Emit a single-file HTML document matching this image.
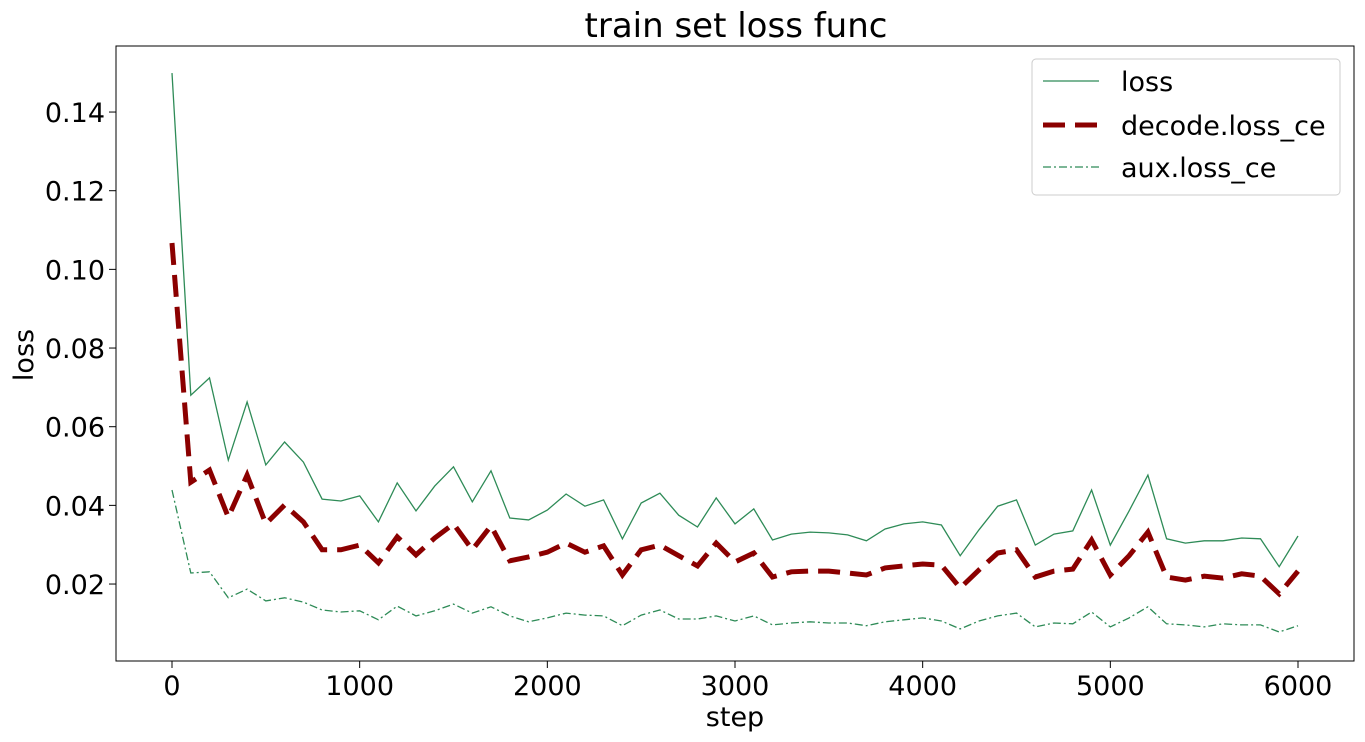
<!DOCTYPE html>
<html><head><meta charset="utf-8"><style>
html,body{margin:0;padding:0;background:#fff;}
svg{display:block;font-family:"DejaVu Sans","Liberation Sans",sans-serif;}
</style></head><body>
<svg id="chart" width="1365" height="742">
<text x="736" y="37" font-size="34" text-anchor="middle">train set loss func</text>
<rect x="116" y="46" width="1238" height="615" fill="none" stroke="#000" stroke-width="1"/>
<g id="xt"></g><g id="yt"></g><g id="series"></g>
<text x="735" y="726" font-size="27" text-anchor="middle">step</text>
<text transform="translate(33,355) rotate(-90)" font-size="27" text-anchor="middle">loss</text>
<g>
<rect x="1032" y="59" width="308" height="136" rx="4" fill="#fff" stroke="#ccc"/>
<line x1="1043" y1="81" x2="1099" y2="81" stroke="#2e8b57" stroke-width="1.3"/>
<text x="1121" y="91" font-size="27">loss</text>
<line x1="1043" y1="125" x2="1099" y2="125" stroke="#8b0000" stroke-width="5" stroke-dasharray="22,10"/>
<text x="1121" y="135" font-size="27">decode.loss_ce</text>
<line x1="1043" y1="167" x2="1099" y2="167" stroke="#2e8b57" stroke-width="1.3" stroke-dasharray="8,3,2,3"/>
<text x="1121" y="177" font-size="27">aux.loss_ce</text>
</g>
</svg>
<script>
const steps=[];for(let i=0;i<=60;i++)steps.push(i*100);
const lossVals=[0.1499,0.0680,0.0724,0.0515,0.0663,0.0503,0.0561,0.0510,0.0416,0.0411,0.0424,0.0358,0.0457,0.0386,0.0449,0.0498,0.0409,0.0488,0.0368,0.0363,0.0388,0.0429,0.0398,0.0414,0.0315,0.0406,0.0431,0.0375,0.0345,0.0419,0.0353,0.0391,0.0312,0.0327,0.0332,0.0330,0.0325,0.0310,0.0340,0.0353,0.0358,0.0350,0.0272,0.0338,0.0398,0.0414,0.0299,0.0327,0.0335,0.0439,0.0299,0.0386,0.0477,0.0315,0.0304,0.0310,0.0310,0.0317,0.0315,0.0244,0.0322];
const decodeVals=[0.1067,0.0459,0.0490,0.0370,0.0477,0.0353,0.0401,0.0358,0.0287,0.0287,0.0299,0.0254,0.0320,0.0274,0.0317,0.0353,0.0287,0.0348,0.0259,0.0269,0.0281,0.0304,0.0281,0.0297,0.0223,0.0287,0.0299,0.0272,0.0246,0.0304,0.0256,0.0279,0.0218,0.0231,0.0233,0.0233,0.0228,0.0223,0.0241,0.0246,0.0251,0.0248,0.0190,0.0236,0.0279,0.0287,0.0218,0.0233,0.0238,0.0312,0.0223,0.0272,0.0332,0.0218,0.0210,0.0220,0.0215,0.0226,0.0220,0.0175,0.0233];
const auxVals=[0.0439,0.0228,0.0231,0.0165,0.0187,0.0157,0.0165,0.0154,0.0134,0.0129,0.0132,0.0109,0.0144,0.0119,0.0132,0.0149,0.0126,0.0142,0.0119,0.0104,0.0114,0.0126,0.0121,0.0119,0.0094,0.0121,0.0134,0.0111,0.0111,0.0119,0.0106,0.0119,0.0096,0.0101,0.0104,0.0101,0.0101,0.0094,0.0104,0.0109,0.0114,0.0106,0.0086,0.0106,0.0119,0.0126,0.0091,0.0101,0.0099,0.0129,0.0091,0.0114,0.0142,0.0099,0.0096,0.0091,0.0099,0.0096,0.0096,0.0078,0.0094];
const xTicks=[0,1000,2000,3000,4000,5000,6000];
const yTicks=[0.02,0.04,0.06,0.08,0.10,0.12,0.14];
const yTickLabels=["0.02","0.04","0.06","0.08","0.10","0.12","0.14"];
const NS="http://www.w3.org/2000/svg";
const X=v=>172+v*(1298-172)/6000;
const Y=v=>662.7-v*3933.3;
const xt=document.getElementById('xt'),yt=document.getElementById('yt'),sg=document.getElementById('series');
function mk(tag,attrs,parent){const e=document.createElementNS(NS,tag);for(const k in attrs)e.setAttribute(k,attrs[k]);parent.appendChild(e);return e;}
xTicks.forEach(t=>{
 const l=mk('line',{x1:X(t),x2:X(t),y1:661,y2:668,stroke:'#000'},xt);
 
 
 const tx=mk('text',{x:X(t),y:695,'font-size':27,'text-anchor':'middle'},xt);tx.textContent=t;
 
 
});
yTicks.forEach((t,i)=>{
 const l=mk('line',{x1:109,x2:116,y1:Y(t),y2:Y(t),stroke:'#000'},yt);
 
 
 const tx=mk('text',{x:105,y:Y(t)+10,'font-size':27,'text-anchor':'end'},yt);tx.textContent=yTickLabels[i];
 
 
});
function pts(vals){return vals.map((v,i)=>X(steps[i]).toFixed(1)+','+Y(v).toFixed(1)).join(' ');}
const p1=mk('polyline',{points:pts(lossVals),fill:'none',stroke:'#2e8b57','stroke-width':1.3},sg);


const p2=mk('polyline',{points:pts(decodeVals),fill:'none',stroke:'#8b0000','stroke-width':5,'stroke-dasharray':'22,10'},sg);


const p3=mk('polyline',{points:pts(auxVals),fill:'none',stroke:'#2e8b57','stroke-width':1.3,'stroke-dasharray':'8,3,2,3'},sg);


</script>
</body></html>
